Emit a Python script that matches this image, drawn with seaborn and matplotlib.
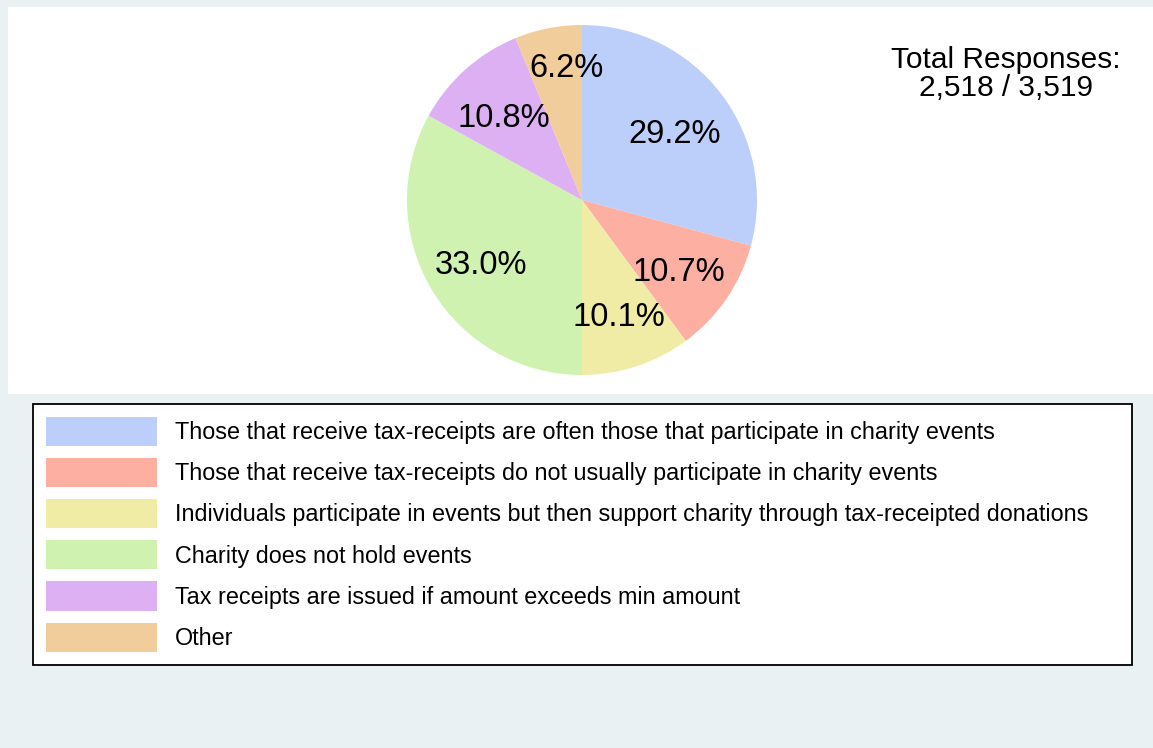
import matplotlib
matplotlib.use("Agg")
import matplotlib.pyplot as plt
import seaborn as sns
from matplotlib.patches import Rectangle

# chart data
categories = [
    "Those that receive tax-receipts are often those that participate in charity events",
    "Those that receive tax-receipts do not usually participate in charity events",
    "Individuals participate in events but then support charity through tax-receipted donations",
    "Charity does not hold events",
    "Tax receipts are issued if amount exceeds min amount",
    "Other",
]
shares = [29.2, 10.7, 10.1, 33.0, 10.8, 6.2]
colors = ["#bccffa", "#fdafa1", "#f0eca6", "#cff2b0", "#dcb0f2", "#f2cd9c"]
total_text = "Total Responses:\n2,518 / 3,519"

sns.set_theme(style="white")
plt.rcParams["font.family"] = ["Liberation Sans", "DejaVu Sans"]
plt.rcParams["text.color"] = "black"

W, H = 1153, 748
fig = plt.figure(figsize=(W / 100, H / 100), dpi=100, facecolor="#e9f1f3")

# white panel behind the pie
fig.patches.append(Rectangle((8 / W, 1 - 394 / H), 1 - 8 / W, (394 - 7) / H,
                             transform=fig.transFigure, facecolor="white",
                             edgecolor="none", zorder=-5))

# pie axes, centred at (582, 200) px with radius 175 px
cx, cy, r = 582, 200, 175
ax = fig.add_axes([(cx - r) / W, 1 - (cy + r) / H, 2 * r / W, 2 * r / H])
ax.patch.set_alpha(0)
wedges, texts, autotexts = ax.pie(
    shares, colors=colors, startangle=90, counterclock=False,
    autopct="%1.1f%%", pctdistance=0.67,
    textprops={"fontsize": 23.5, "color": "black"},
    wedgeprops={"linewidth": 0},
)
ax.set_xlim(-1, 1)
ax.set_ylim(-1, 1)
ax.set_aspect("equal")
ax.axis("off")

# labels sit a little lower; the small "Other" one is pushed outward
for i, t in enumerate(autotexts):
    x, y = t.get_position()
    if i == 5:
        t.set_position((x * 1.15 + 0.06, y * 1.15 - 0.006))
    else:
        t.set_position((x, y - 0.035))

fig.text(1006 / W, 1 - 46 / H, total_text, ha="center", va="top",
         fontsize=21.5, linespacing=1.02)

leg = fig.legend(
    wedges, categories, loc="upper left",
    bbox_to_anchor=(33 / W, 1 - 666 / H, (1132 - 33) / W, (666 - 404) / H),
    mode="expand", ncol=1, fontsize=16.8, frameon=True, fancybox=False,
    edgecolor="black", framealpha=1, borderaxespad=0, borderpad=0.56,
    handlelength=4.76, handleheight=1.54, handletextpad=0.77, labelspacing=0.515,
)
leg.get_frame().set_linewidth(1.3)

fig.savefig("out.png", dpi=100, facecolor=fig.get_facecolor())
